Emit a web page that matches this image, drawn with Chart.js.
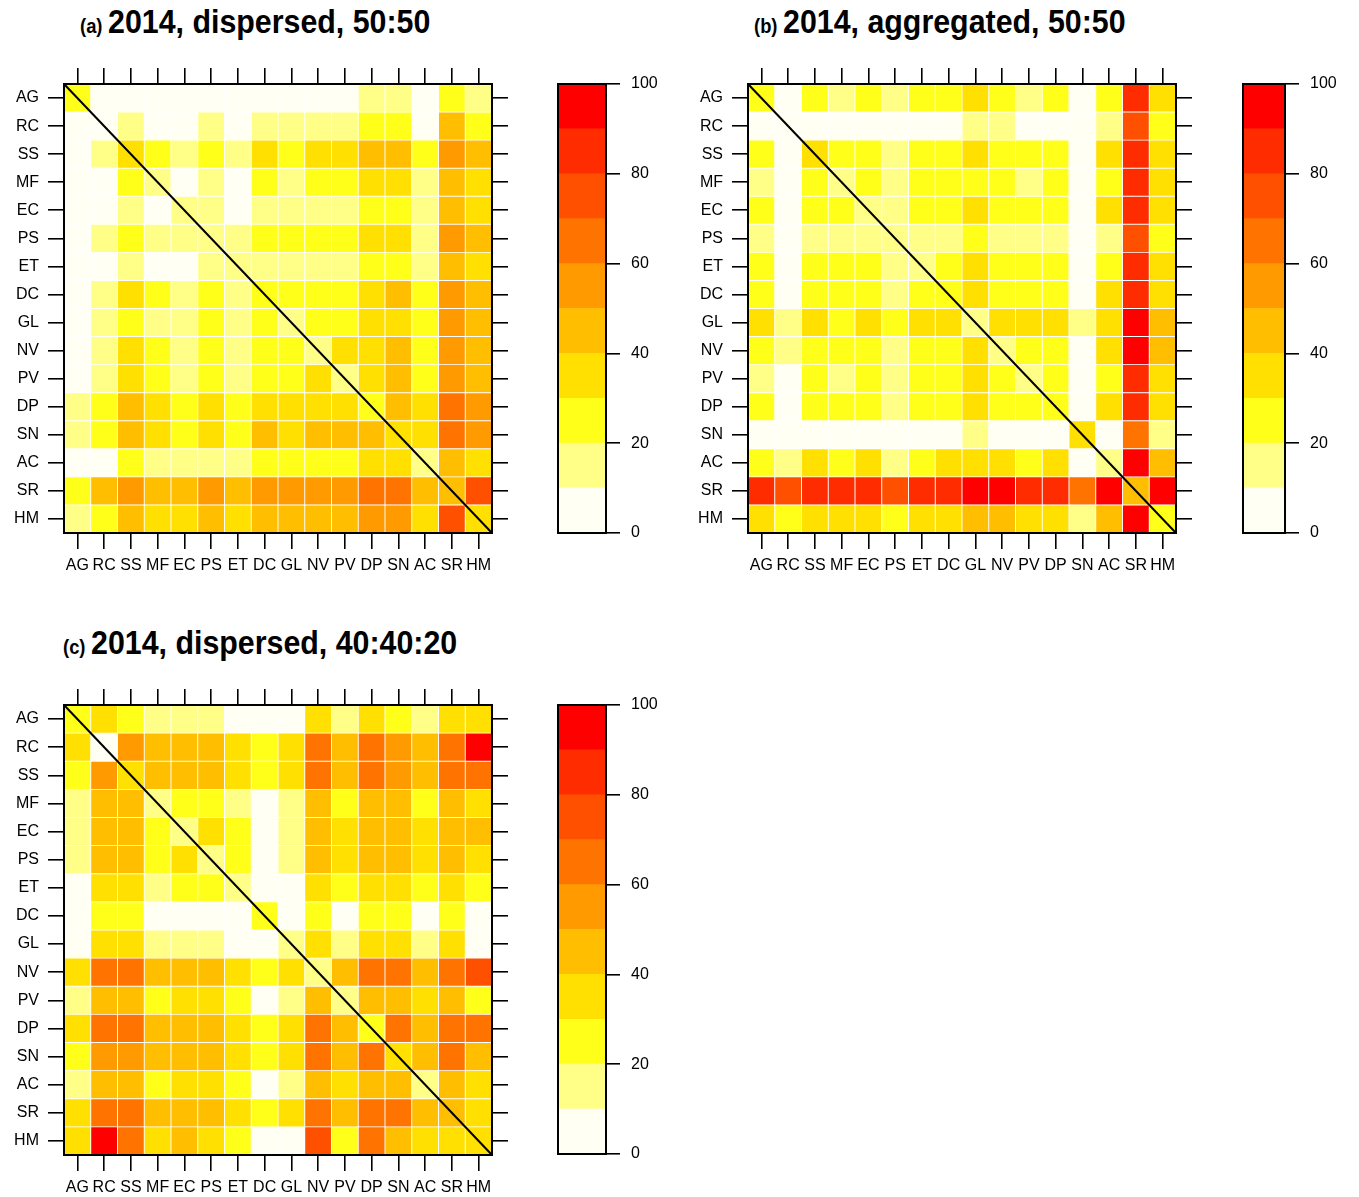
<!DOCTYPE html>
<html>
<head>
<meta charset="utf-8">
<script src="https://cdn.jsdelivr.net/npm/chart.js@4.4.0/dist/chart.umd.min.js"></script>
<style>
  html, body { margin: 0; padding: 0; background: #fff; overflow: hidden; }
  body { width: 1359px; height: 1197px; position: relative; }
  .box { position: absolute; }
  .title { position: absolute; white-space: nowrap; font-family: "Liberation Sans Narrow", "Liberation Sans", Arial, sans-serif; font-weight: bold; color: #000; line-height: 1; transform: scaleX(0.92); transform-origin: left center; }
  .title .tag { font-size: 20px; margin-right: 6px; }
  .title .main { font-size: 33px; }
</style>
</head>
<body>
<div class="title" style="left:80px; top:5px;"><span class="tag">(a)</span><span class="main">2014, dispersed, 50:50</span></div>
<div class="title" style="left:754px; top:5px;"><span class="tag">(b)</span><span class="main">2014, aggregated, 50:50</span></div>
<div class="title" style="left:63px; top:626px;"><span class="tag">(c)</span><span class="main">2014, dispersed, 40:40:20</span></div>

<div class="box" style="left:0px; top:60px; width:520px; height:530px;"><canvas id="heatA"></canvas></div>
<div class="box" style="left:540px; top:60px; width:140px; height:530px;"><canvas id="barA"></canvas></div>
<div class="box" style="left:684px; top:60px; width:520px; height:530px;"><canvas id="heatB"></canvas></div>
<div class="box" style="left:1225px; top:60px; width:134px; height:530px;"><canvas id="barB"></canvas></div>
<div class="box" style="left:0px; top:681px; width:520px; height:516px;"><canvas id="heatC"></canvas></div>
<div class="box" style="left:540px; top:681px; width:140px; height:530px;"><canvas id="barC"></canvas></div>

<script>
// habitat codes, same order on both axes (rows top to bottom, columns left to right)
const codes = ["AG", "RC", "SS", "MF", "EC", "PS", "ET", "DC", "GL", "NV", "PV", "DP", "SN", "AC", "SR", "HM"];

// colour key: 10 classes of width 10 from 0 to 100
const keyEdges = [0, 10, 20, 30, 40, 50, 60, 70, 80, 90, 100];
const keyColors = ["#FFFFF3", "#FFFF88", "#FFFF1A", "#FFE000", "#FFBE00", "#FF9A00",
                   "#FF7300", "#FF5000", "#FF2C00", "#FF0000"];
const keyTicks = [0, 20, 40, 60, 80, 100];

// (a) 2014, dispersed, 50:50
const dispersed5050 = [
  [25, 5, 5, 5, 5, 5, 5, 5, 5, 5, 5, 15, 15, 5, 25, 15],
  [5, 5, 15, 5, 5, 15, 5, 15, 15, 15, 15, 25, 25, 5, 45, 25],
  [5, 15, 35, 25, 15, 25, 15, 35, 25, 35, 35, 45, 45, 25, 55, 45],
  [5, 5, 25, 15, 5, 15, 5, 25, 15, 25, 25, 35, 35, 15, 45, 35],
  [5, 5, 15, 5, 15, 15, 5, 15, 15, 15, 15, 25, 25, 15, 45, 35],
  [5, 15, 25, 15, 15, 15, 15, 25, 25, 25, 25, 35, 35, 15, 55, 45],
  [5, 5, 15, 5, 5, 15, 15, 15, 15, 15, 15, 25, 25, 15, 45, 35],
  [5, 15, 35, 25, 15, 25, 15, 25, 25, 25, 25, 35, 45, 25, 55, 45],
  [5, 15, 25, 15, 15, 25, 15, 25, 15, 25, 25, 35, 35, 25, 55, 45],
  [5, 15, 35, 25, 15, 25, 15, 25, 25, 15, 35, 35, 45, 25, 55, 45],
  [5, 15, 35, 25, 15, 25, 15, 25, 25, 35, 15, 35, 45, 25, 55, 45],
  [15, 25, 45, 35, 25, 35, 25, 35, 35, 35, 35, 25, 45, 35, 65, 55],
  [15, 25, 45, 35, 25, 35, 25, 45, 35, 45, 45, 45, 35, 35, 65, 55],
  [5, 5, 25, 15, 15, 15, 15, 25, 25, 25, 25, 35, 35, 15, 45, 35],
  [25, 45, 55, 45, 45, 55, 45, 55, 55, 55, 55, 65, 65, 45, 45, 75],
  [15, 25, 45, 35, 35, 45, 35, 45, 45, 45, 45, 55, 55, 35, 75, 35]
];

// (b) 2014, aggregated, 50:50
const aggregated5050 = [
  [25, 5, 25, 15, 25, 15, 25, 25, 35, 25, 15, 25, 5, 25, 85, 35],
  [5, 5, 5, 5, 5, 5, 5, 5, 15, 15, 5, 5, 5, 15, 75, 25],
  [25, 5, 35, 25, 25, 15, 25, 25, 35, 25, 25, 25, 5, 35, 85, 35],
  [15, 5, 25, 15, 25, 15, 25, 25, 25, 25, 15, 25, 5, 25, 85, 35],
  [25, 5, 25, 25, 15, 15, 25, 25, 35, 25, 25, 25, 5, 35, 85, 35],
  [15, 5, 15, 15, 15, 15, 15, 15, 25, 15, 15, 15, 5, 15, 75, 25],
  [25, 5, 25, 25, 25, 15, 15, 25, 35, 25, 25, 25, 5, 25, 85, 35],
  [25, 5, 25, 25, 25, 15, 25, 25, 35, 25, 25, 25, 5, 35, 85, 35],
  [35, 15, 35, 25, 35, 25, 35, 35, 15, 35, 35, 35, 15, 35, 95, 45],
  [25, 15, 25, 25, 25, 15, 25, 25, 35, 15, 25, 25, 5, 35, 95, 45],
  [15, 5, 25, 15, 25, 15, 25, 25, 35, 25, 15, 25, 5, 25, 85, 35],
  [25, 5, 25, 25, 25, 15, 25, 25, 35, 25, 25, 25, 5, 35, 85, 35],
  [5, 5, 5, 5, 5, 5, 5, 5, 15, 5, 5, 5, 35, 5, 65, 15],
  [25, 15, 35, 25, 35, 15, 25, 35, 35, 35, 25, 35, 5, 15, 95, 45],
  [85, 75, 85, 85, 85, 75, 85, 85, 95, 95, 85, 85, 65, 95, 45, 95],
  [35, 25, 35, 35, 35, 25, 35, 35, 45, 45, 35, 35, 15, 45, 95, 25]
];

// (c) 2014, dispersed, 40:40:20
const dispersed404020 = [
  [25, 35, 25, 15, 15, 15, 5, 5, 5, 35, 15, 35, 25, 15, 35, 35],
  [35, 5, 55, 45, 45, 45, 35, 25, 35, 65, 45, 65, 55, 45, 65, 95],
  [25, 55, 35, 45, 45, 45, 35, 25, 35, 65, 45, 65, 55, 45, 65, 65],
  [15, 45, 45, 15, 25, 25, 15, 5, 15, 45, 25, 45, 45, 25, 45, 35],
  [15, 45, 45, 25, 15, 35, 25, 5, 15, 45, 35, 45, 45, 35, 45, 45],
  [15, 45, 45, 25, 35, 15, 25, 5, 15, 45, 35, 45, 45, 35, 45, 35],
  [5, 35, 35, 15, 25, 25, 15, 5, 5, 35, 25, 35, 35, 25, 35, 25],
  [5, 25, 25, 5, 5, 5, 5, 25, 5, 25, 5, 25, 25, 5, 25, 5],
  [5, 35, 35, 15, 15, 15, 5, 5, 15, 35, 15, 35, 35, 15, 35, 5],
  [35, 65, 65, 45, 45, 45, 35, 25, 35, 15, 45, 65, 65, 45, 65, 75],
  [15, 45, 45, 25, 35, 35, 25, 5, 15, 45, 15, 45, 45, 35, 45, 25],
  [35, 65, 65, 45, 45, 45, 35, 25, 35, 65, 45, 25, 65, 45, 65, 65],
  [25, 55, 55, 45, 45, 45, 35, 25, 35, 65, 45, 65, 35, 45, 65, 45],
  [15, 45, 45, 25, 35, 35, 25, 5, 15, 45, 35, 45, 45, 15, 45, 35],
  [35, 65, 65, 45, 45, 45, 35, 25, 35, 65, 45, 65, 65, 45, 45, 35],
  [35, 95, 65, 35, 45, 35, 25, 5, 5, 75, 25, 65, 45, 35, 35, 35]
];

const tickFont = { family: "'Liberation Sans', Arial, sans-serif", size: 16 };

function colourFor(v) {
  for (let i = 0; i < keyColors.length; i++) {
    if (v < keyEdges[i + 1]) return keyColors[i];
  }
  return keyColors[keyColors.length - 1];
}

// black frame round the plot area, plus the diagonal on the heatmaps
const framePlugin = {
  id: "frame",
  afterDatasetsDraw(chart, args, opts) {
    const a = chart.chartArea, ctx = chart.ctx;
    ctx.save();
    ctx.strokeStyle = "#000";
    ctx.lineWidth = 2;
    if (opts.diagonal) {
      ctx.beginPath();
      ctx.moveTo(a.left, a.top);
      ctx.lineTo(a.right, a.bottom);
      ctx.stroke();
    }
    ctx.strokeRect(a.left, a.top, a.right - a.left, a.bottom - a.top);
    ctx.restore();
  }
};

function tickGrid() {
  return { drawOnChartArea: false, drawTicks: true, tickLength: 16, color: "#000", lineWidth: 1.6, offset: false };
}

function heatmap(id, matrix, bottomH) {
  // bottom row first, so the stack builds upwards from HM to AG
  const datasets = [];
  for (let k = codes.length - 1; k >= 0; k--) {
    const row = matrix[k];
    datasets.push({
      label: codes[k],
      data: row.map(() => 1),
      backgroundColor: row.map(colourFor),
      borderColor: "rgba(255,255,255,0.35)",
      borderWidth: 0.8,
      borderSkipped: false,
      barPercentage: 1,
      categoryPercentage: 1
    });
  }
  const rowTicks = codes.map((c, i) => i + 0.5);
  const yLabel = v => codes[codes.length - 1 - Math.floor(v)];
  return new Chart(document.getElementById(id), {
    type: "bar",
    data: { labels: codes, datasets },
    plugins: [framePlugin],
    options: {
      responsive: true,
      maintainAspectRatio: false,
      animation: false,
      layout: { padding: 0 },
      plugins: { legend: { display: false }, tooltip: { enabled: false }, frame: { diagonal: true } },
      scales: {
        x: {
          type: "category", position: "bottom", stacked: true, offset: true,
          grid: tickGrid(), border: { display: false },
          ticks: { autoSkip: false, maxRotation: 0, minRotation: 0, padding: 7, color: "#000", font: tickFont },
          afterFit: s => { s.height = bottomH; }
        },
        xTop: {
          type: "category", position: "top", labels: codes, offset: true,
          grid: tickGrid(), border: { display: false },
          ticks: { autoSkip: false, maxRotation: 0, padding: 0, callback: () => "" },
          afterFit: s => { s.height = 24; }
        },
        y: {
          type: "linear", position: "left", stacked: true, min: 0, max: codes.length,
          grid: tickGrid(), border: { display: false },
          afterBuildTicks: s => { s.ticks = rowTicks.map(v => ({ value: v })); },
          ticks: { padding: 9, color: "#000", font: tickFont, callback: v => yLabel(v) },
          afterFit: s => { s.width = 64; }
        },
        yRight: {
          type: "linear", position: "right", min: 0, max: codes.length,
          grid: tickGrid(), border: { display: false },
          afterBuildTicks: s => { s.ticks = rowTicks.map(v => ({ value: v })); },
          ticks: { padding: 0, callback: () => "" },
          afterFit: s => { s.width = 28; }
        }
      }
    }
  });
}

function colourKey(id, leftPad) {
  const datasets = keyColors.map((c, i) => ({
    data: [[keyEdges[i], keyEdges[i + 1]]],
    backgroundColor: c,
    borderWidth: 0,
    barPercentage: 1,
    categoryPercentage: 1,
    grouped: false
  }));
  return new Chart(document.getElementById(id), {
    type: "bar",
    data: { labels: [""], datasets },
    plugins: [framePlugin],
    options: {
      responsive: true,
      maintainAspectRatio: false,
      animation: false,
      layout: { padding: { left: leftPad, top: 24, bottom: 57 } },
      plugins: { legend: { display: false }, tooltip: { enabled: false }, frame: { diagonal: false } },
      scales: {
        x: { display: false },
        y: {
          position: "right", min: 0, max: 100,
          grid: { drawOnChartArea: false, drawTicks: true, tickLength: 14, color: "#000", lineWidth: 1.6 },
          border: { display: false },
          afterBuildTicks: s => { s.ticks = keyTicks.map(v => ({ value: v })); },
          ticks: { padding: 11, color: "#000", font: tickFont },
          afterFit: s => { s.width = 74; }
        }
      }
    }
  });
}

heatmap("heatA", dispersed5050, 57);
heatmap("heatB", aggregated5050, 57);
heatmap("heatC", dispersed404020, 42);
colourKey("barA", 18);
colourKey("barB", 18);
colourKey("barC", 18);
</script>
</body>
</html>
